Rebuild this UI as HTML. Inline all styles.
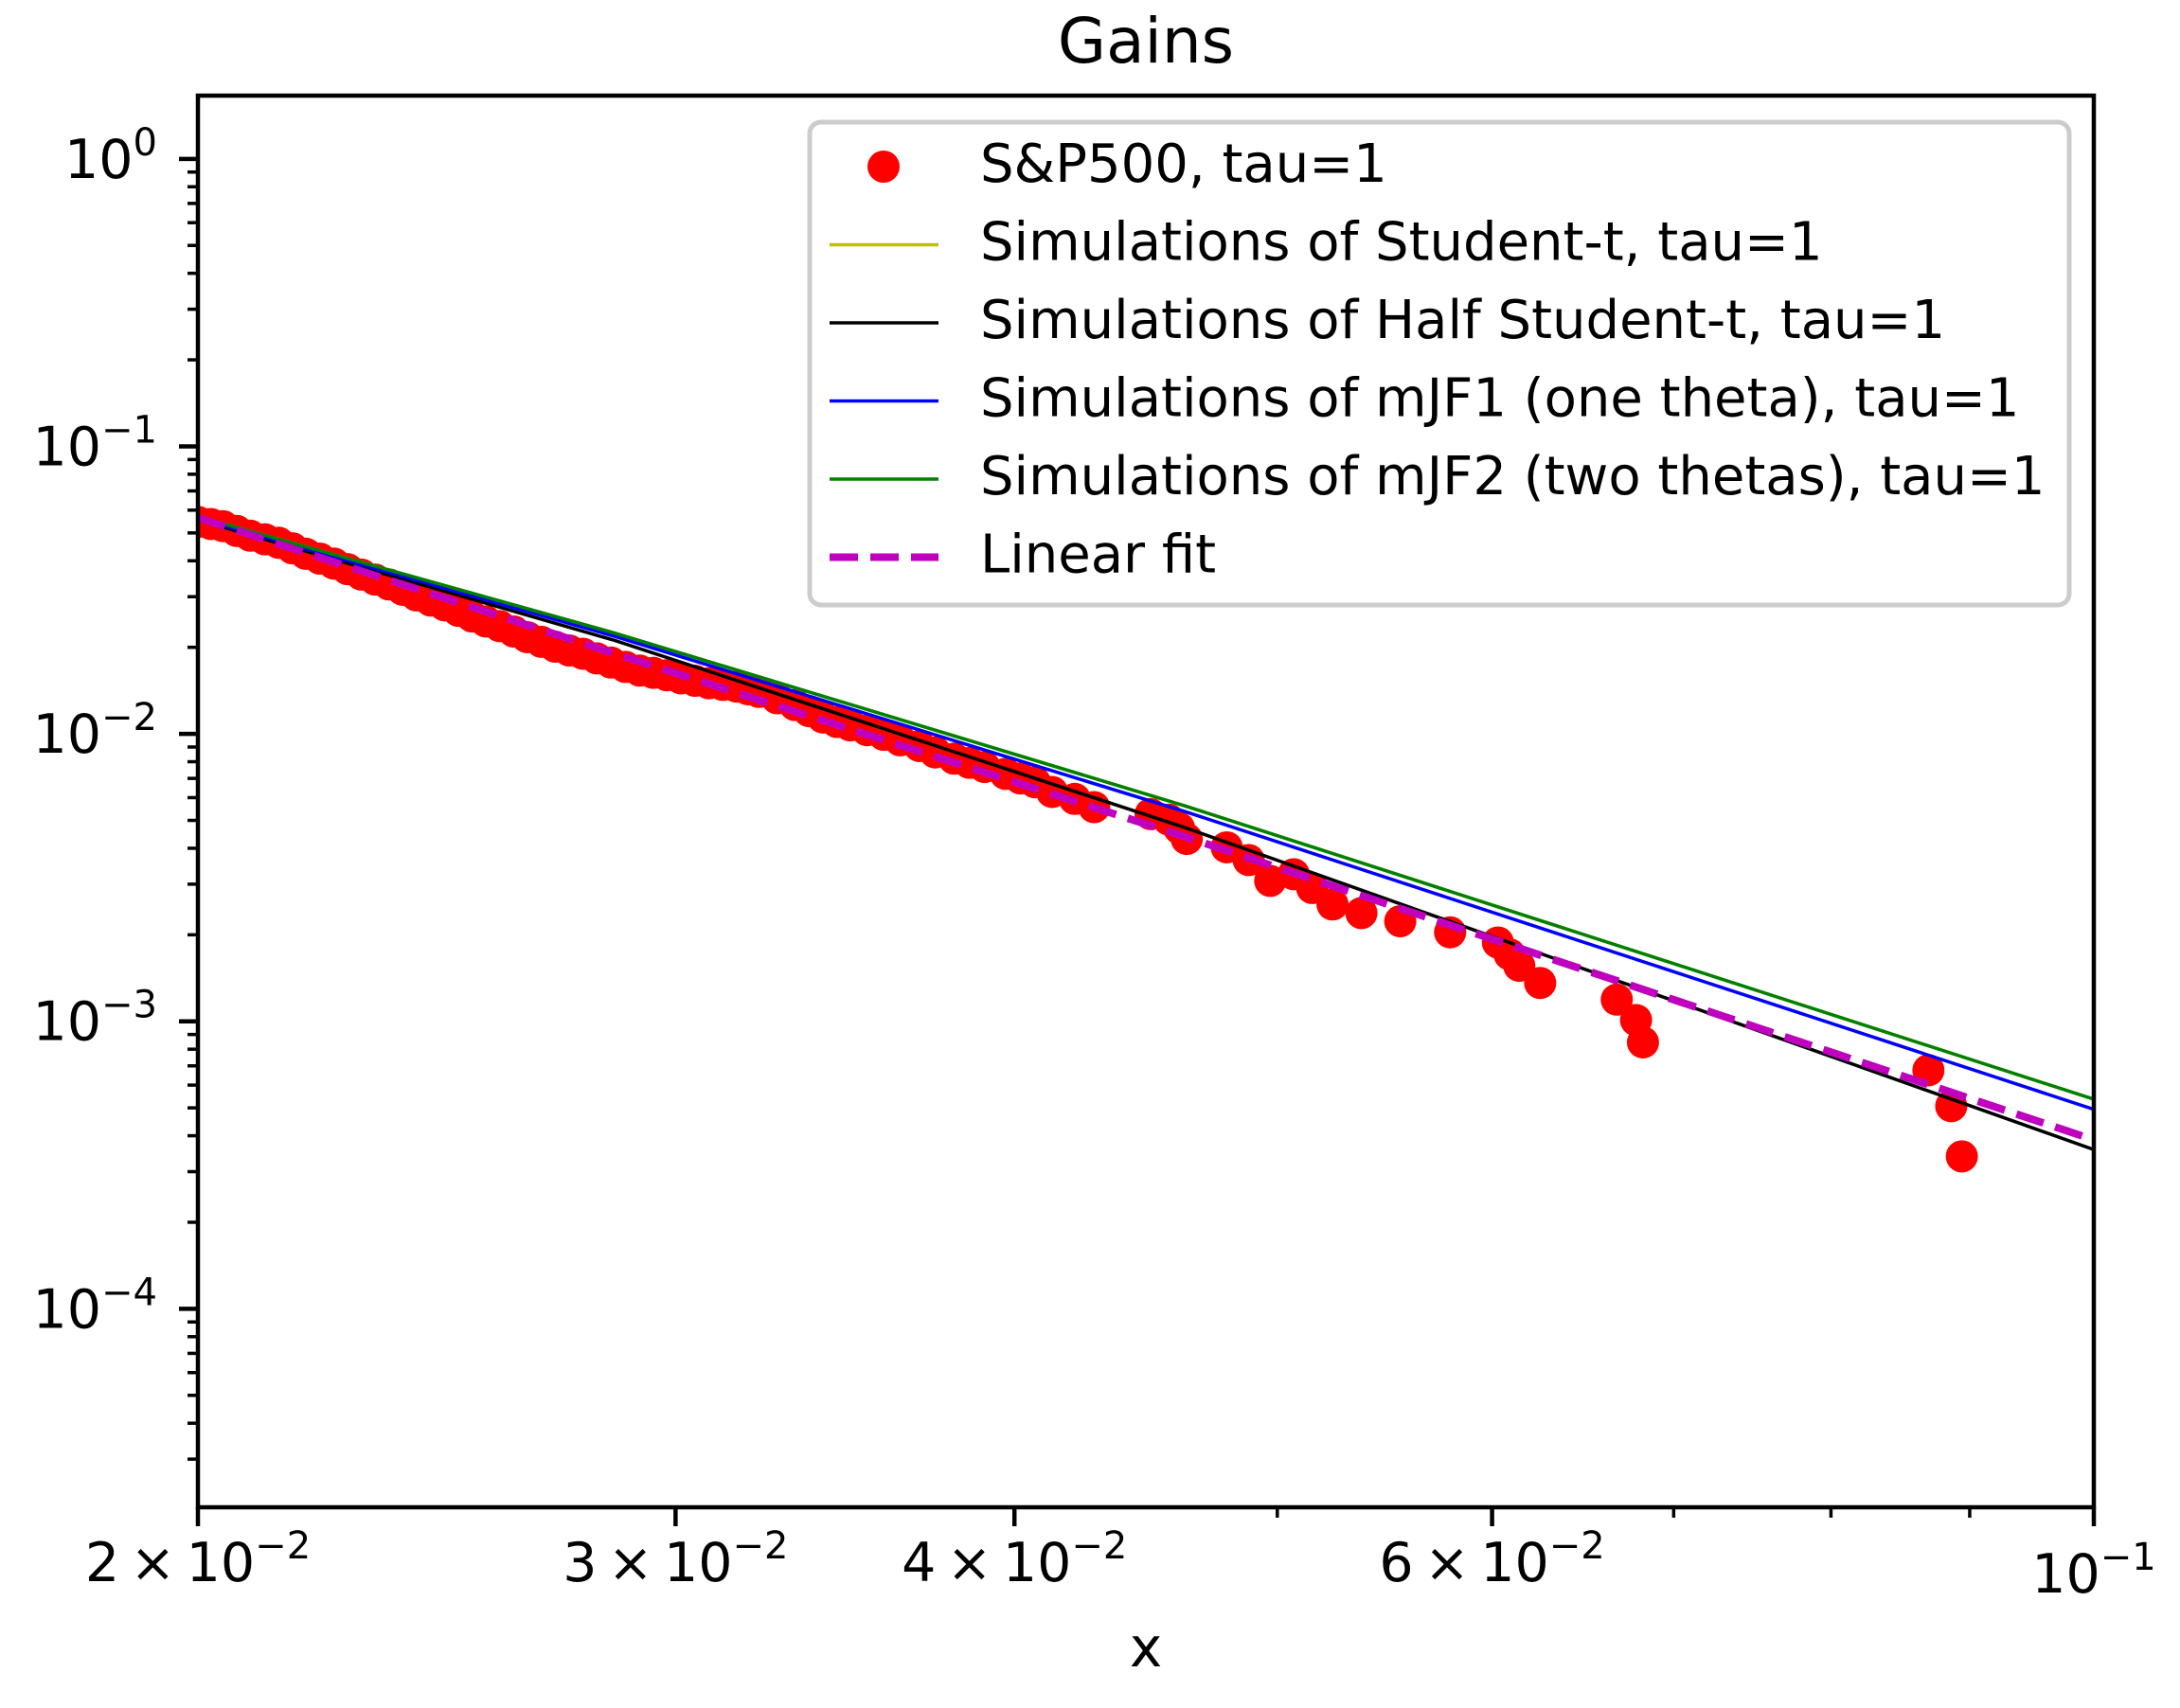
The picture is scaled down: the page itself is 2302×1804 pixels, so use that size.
<!DOCTYPE html>
<html><head><meta charset="utf-8"><style>
html,body{margin:0;padding:0;background:#fff;}
svg{display:block;font-family:"DejaVu Sans","Liberation Sans",sans-serif;}
</style></head><body>
<svg id="chart" width="2302" height="1804" viewBox="0 0 2302 1804" xmlns="http://www.w3.org/2000/svg">
<rect x="0" y="0" width="2302" height="1804" fill="#fff"/>
<text x="1210" y="66" font-size="66" text-anchor="middle">Gains</text>
<text x="1210" y="1760" font-size="58" text-anchor="middle">x</text>
<g id="plot"></g>
</svg>
<script>
// ---- data ----
const lineX = [0.02, 0.0285, 0.0462, 0.1];
const studentT = [0.0570, 0.0224, 0.00563, 0.000536];
const halfStudentT = [0.0555, 0.0211, 0.00473, 0.000358];
const mjf1 = [0.0562, 0.0218, 0.00538, 0.000494];
const mjf2 = [0.0570, 0.0224, 0.00563, 0.000536];
const linearFit = [0.0565, 0.0190, 0.0044, 0.000387];
const spX = [0.0200,0.02022,0.02043,0.02067,0.02091,0.02117,0.02142,0.02167,0.02192,0.02218,0.02245,0.02271,0.02298,0.02325,0.02352,0.0238,0.02408,0.02437,0.02466,0.02495,0.02524,0.02554,0.02584,0.02615,0.02645,0.02677,0.02709,0.02741,0.02773,0.02806,0.02840,0.02875,0.02910,0.02944,0.02978,0.03014,0.03050,0.03086,0.03123,0.03160,0.0319,
 0.0322,0.0327,0.0332,0.0336,0.0340,0.0344,0.0348,0.0353,0.0358,0.0363,0.0369,0.0374,0.0380,0.0385,0.0390,0.0397,0.0402,0.0407,0.0413,0.0421,0.0428,0.0449,0.0456,0.0460,0.0463,0.0479,0.0488,0.0497,0.0507,0.0515,0.0524,0.0537,0.0555,0.0579,0.0603,0.0609,0.0614,0.0625,0.0667,0.0678,0.0682,0.0869,0.0886,0.0894];
const spY = [0.0546,0.0537,0.0528,0.0508,0.0489,0.0475,0.0462,0.0442,0.0423,0.0407,0.0391,0.0374,0.0358,0.0344,0.0331,0.0317,0.0303,0.0291,0.0280,0.0268,0.0256,0.0246,0.0237,0.0227,0.0217,0.0209,0.0201,0.0195,0.0190,0.0183,0.0177,0.0171,0.0166,0.0163,0.0160,0.0156,0.0153,0.0150,0.0148,0.0146,0.0143,
 0.0140,0.0133,0.0126,0.0120,0.0114,0.0110,0.0107,0.0103,0.00992,0.00950,0.00907,0.00862,0.00820,0.00793,0.00767,0.00726,0.00700,0.00679,0.00628,0.00594,0.00556,0.00526,0.00503,0.00470,0.00431,0.00403,0.00364,0.00308,0.00325,0.00291,0.00255,0.00238,0.00223,0.00204,0.00188,0.00171,0.00156,0.00136,0.00119,0.00101,0.000845,0.000676,0.000507,0.000339];
const xTickVals = [0.02, 0.03, 0.04, 0.06, 0.1];
const xTickMant = ["2", "3", "4", "6", ""];
const xTickExp = ["\u22122", "\u22122", "\u22122", "\u22122", "\u22121"];
const xMinorVals = [0.05, 0.07, 0.08, 0.09];
const yTickVals = [1, 0.1, 0.01, 0.001, 0.0001];
const yTickExp = ["0", "\u22121", "\u22122", "\u22123", "\u22124"];

// ---- axes ----
const L=209, R=2211, T=101, B=1592;
const xMin=0.02, xMax=0.1, yMin=2.04e-5, yMax=1.66;
const sx = v => L + (Math.log10(v)-Math.log10(xMin))/(Math.log10(xMax)-Math.log10(xMin))*(R-L);
const sy = v => B - (Math.log10(v)-Math.log10(yMin))/(Math.log10(yMax)-Math.log10(yMin))*(B-T);
const NS="http://www.w3.org/2000/svg";
const g=document.getElementById('plot');
function mk(tag, attrs, parent){const e=document.createElementNS(NS,tag);for(const k in attrs)e.setAttribute(k,attrs[k]);(parent||g).appendChild(e);return e;}

const clip=mk('clipPath',{id:'pc'});
mk('rect',{x:L,y:T,width:R-L,height:B-T},clip);
const dataG=mk('g',{'clip-path':'url(#pc)'});



// scatter
for(let i=0;i<spX.length;i++){
  const c=mk('circle',{cx:sx(spX[i]),cy:sy(spY[i]),r:17,fill:'#ff0000'},dataG);
  
  
}
function line(vals,color,w,dash,name){
  const pts=lineX.map((x,i)=>sx(x).toFixed(1)+','+sy(vals[i]).toFixed(1)).join(' ');
  const p=mk('polyline',{points:pts,fill:'none',stroke:color,'stroke-width':w},dataG);
  if(dash)p.setAttribute('stroke-dasharray',dash);
  
  
}
line(studentT,'#bfbf00',3.5,null,'student-t-line');
line(halfStudentT,'#000000',3.5,null,'half-student-t-line');
line(mjf1,'#0000ff',3.5,null,'mjf1-line');
line(mjf2,'#008000',3.5,null,'mjf2-line');
line(linearFit,'#bf00bf',8,'30,13','linear-fit-line');

// frame
const fr=mk('rect',{x:L,y:T,width:R-L,height:B-T,fill:'none',stroke:'#000','stroke-width':4.5});



// x ticks
for(let i=0;i<xTickVals.length;i++){
  const x=sx(xTickVals[i]);
  mk('line',{x1:x,y1:B,x2:x,y2:B+20,stroke:'#000','stroke-width':4.5});
  const t=mk('text',{x:x,y:xTickMant[i]?1670:1682,'font-size':57,'text-anchor':'middle'});
  
  
  const base=(xTickMant[i]?xTickMant[i]+'\u2009\u00d7\u200910':'10');
  const s1=document.createElementNS(NS,'tspan');s1.textContent=base;t.appendChild(s1);
  const s2=document.createElementNS(NS,'tspan');s2.setAttribute('dy','-24');s2.setAttribute('font-size','40');s2.textContent=xTickExp[i];t.appendChild(s2);
}
for(const v of xMinorVals){const x=sx(v);mk('line',{x1:x,y1:B,x2:x,y2:B+11,stroke:'#000','stroke-width':3.5});}

// y ticks
for(let i=0;i<yTickVals.length;i++){
  const y=sy(yTickVals[i]);
  mk('line',{x1:L-20,y1:y,x2:L,y2:y,stroke:'#000','stroke-width':4.5});
  const t=mk('text',{x:166,y:y+20,'font-size':57,'text-anchor':'end'});
  
  
  const s1=document.createElementNS(NS,'tspan');s1.textContent='10';t.appendChild(s1);
  const s2=document.createElementNS(NS,'tspan');s2.setAttribute('dy','-24');s2.setAttribute('font-size','40');s2.textContent=yTickExp[i];t.appendChild(s2);
}
for(let d=-5;d<=0;d++){for(let m=2;m<=9;m++){const v=m*Math.pow(10,d);if(v<yMin||v>yMax)continue;const y=sy(v);mk('line',{x1:L-11,y1:y,x2:L,y2:y,stroke:'#000','stroke-width':3.5});}}

// legend
const lg=mk('g',{});


mk('rect',{x:855,y:129,width:1330,height:510,rx:12,fill:'#fff','fill-opacity':0.8,stroke:'#cccccc','stroke-width':5},lg);
const legLabels=["S&P500, tau=1","Simulations of Student-t, tau=1","Simulations of Half Student-t, tau=1","Simulations of mJF1 (one theta), tau=1","Simulations of mJF2 (two thetas), tau=1","Linear fit"];
const legColors=['#ff0000','#bfbf00','#000000','#0000ff','#008000','#bf00bf'];
for(let i=0;i<legLabels.length;i++){
  const y=176+i*82.5;
  const e=mk('g',{},lg);
  
  
  if(i===0) mk('circle',{cx:933,cy:y,r:17,fill:'#ff0000'},e);
  else if(i===5) mk('line',{x1:876,y1:y,x2:991,y2:y,stroke:legColors[i],'stroke-width':8,'stroke-dasharray':'30,13'},e);
  else mk('line',{x1:876,y1:y,x2:991,y2:y,stroke:legColors[i],'stroke-width':3.5},e);
  const t=mk('text',{x:1035,y:y+16,'font-size':56},e);
  t.textContent=legLabels[i];
}
</script>
</body></html>
